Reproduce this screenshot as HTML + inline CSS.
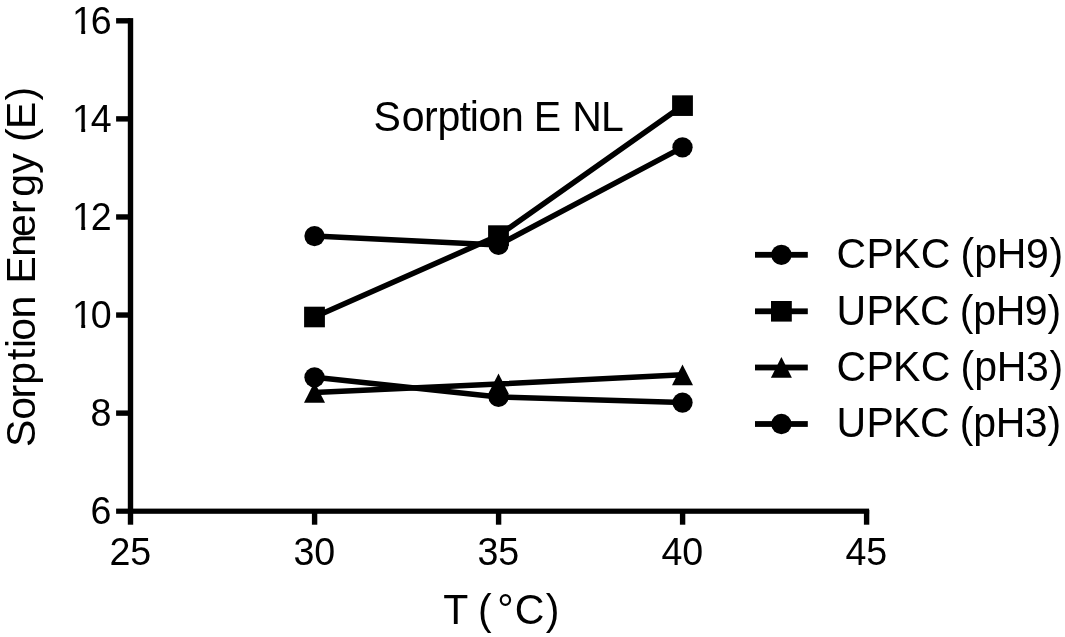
<!DOCTYPE html>
<html lang="en"><head><meta charset="utf-8"><title>Sorption E NL</title>
<style>
html,body{margin:0;padding:0;background:#fff;}
body{width:1065px;height:637px;overflow:hidden;}
svg{display:block;}
text{font-family:"Liberation Sans",Arial,Helvetica,sans-serif;fill:#000;}
.tk{font-size:37.6px;}
.lg{font-size:41px;}
.ti{font-size:41px;}
.ax{font-size:41px;}
</style></head><body>
<svg width="1065" height="637" viewBox="0 0 1065 637">
<rect width="1065" height="637" fill="#fff"/>
<g fill="#000" stroke="none">
<rect x="127.8" y="18.1" width="5.4" height="506.6"/>
<rect x="116.1" y="508.6" width="753.0" height="5.2"/>
<rect x="116.1" y="410.42" width="14" height="5.4"/>
<rect x="116.1" y="312.34" width="14" height="5.4"/>
<rect x="116.1" y="214.26" width="14" height="5.4"/>
<rect x="116.1" y="116.18" width="14" height="5.4"/>
<rect x="116.1" y="18.10" width="14" height="5.4"/>
<rect x="311.90" y="510" width="5.4" height="14.7"/>
<rect x="495.90" y="510" width="5.4" height="14.7"/>
<rect x="679.90" y="510" width="5.4" height="14.7"/>
<rect x="863.90" y="510" width="5.4" height="14.7"/>
</g>
<polyline points="314.50,236.09 498.50,244.91 682.50,147.32" fill="none" stroke="#000" stroke-width="5.5" stroke-linejoin="round"/>
<polyline points="314.50,317.00 498.50,235.60 682.50,105.64" fill="none" stroke="#000" stroke-width="5.5" stroke-linejoin="round"/>
<polyline points="314.50,392.52 498.50,383.99 682.50,374.87" fill="none" stroke="#000" stroke-width="5.5" stroke-linejoin="round"/>
<polyline points="314.50,377.32 498.50,396.94 682.50,402.58" fill="none" stroke="#000" stroke-width="5.5" stroke-linejoin="round"/>
<circle cx="314.50" cy="236.09" r="10.15"/>
<circle cx="498.50" cy="244.91" r="10.15"/>
<circle cx="682.50" cy="147.32" r="10.15"/>
<rect x="304.10" y="306.70" width="20.8" height="20.6"/>
<rect x="488.10" y="225.30" width="20.8" height="20.6"/>
<rect x="672.10" y="95.34" width="20.8" height="20.6"/>
<polygon points="314.50,382.12 325.00,402.82 304.00,402.82"/>
<polygon points="498.50,373.59 509.00,394.29 488.00,394.29"/>
<polygon points="682.50,364.47 693.00,385.17 672.00,385.17"/>
<circle cx="314.50" cy="377.32" r="10.15"/>
<circle cx="498.50" cy="396.94" r="10.15"/>
<circle cx="682.50" cy="402.58" r="10.15"/>
<rect x="755" y="251.90" width="52.8" height="5.8"/>
<circle cx="781.40" cy="254.80" r="10.15"/>
<text class="lg" dx="0 0.3 -0.8 0.3 0 -1.3 0.3 -0.3 -0.4 0.6" transform="translate(836.60,268.00) scale(1,1.04)">CPKC (pH9)</text>
<rect x="755" y="308.40" width="52.8" height="5.8"/>
<rect x="771.00" y="301.00" width="20.8" height="20.6"/>
<text class="lg" dx="0 0.3 -0.8 -0.3 0 -1.3 -0.1 -0.5 -0.4 -0.2" transform="translate(836.60,324.50) scale(1,1.04)">UPKC (pH9)</text>
<rect x="755" y="364.60" width="52.8" height="5.8"/>
<polygon points="781.40,357.10 791.90,377.80 770.90,377.80"/>
<text class="lg" dx="0 0.3 -0.8 0.3 0 -1.3 0.3 -0.3 -0.4 0.6" transform="translate(836.60,380.70) scale(1,1.04)">CPKC (pH3)</text>
<rect x="755" y="421.10" width="52.8" height="5.8"/>
<circle cx="781.40" cy="424.00" r="10.15"/>
<text class="lg" dx="0 0.3 -0.8 -0.3 0 -1.3 -0.1 -0.5 -0.4 -0.2" transform="translate(836.60,437.20) scale(1,1.04)">UPKC (pH3)</text>
<clipPath id="c1"><rect x="-10" y="-40" width="70" height="37"/><rect x="11.46" y="-3.2" width="3.92" height="6"/><rect x="22.31" y="-3.2" width="30" height="15"/></clipPath>
<text class="tk" text-anchor="end" transform="translate(111.30,524.00) scale(1,1.04)">6</text>
<text class="tk" text-anchor="end" transform="translate(111.30,426.00) scale(1,1.04)">8</text>
<text class="tk" dx="2.3 -2.3" clip-path="url(#c1)" transform="translate(69.78,328.00) scale(1,1.04)">10</text>
<text class="tk" dx="2.3 -2.3" clip-path="url(#c1)" transform="translate(69.78,230.00) scale(1,1.04)">12</text>
<text class="tk" dx="2.3 -2.3" clip-path="url(#c1)" transform="translate(69.78,132.00) scale(1,1.04)">14</text>
<text class="tk" dx="2.3 -2.3" clip-path="url(#c1)" transform="translate(69.78,34.00) scale(1,1.04)">16</text>
<text class="tk" text-anchor="middle" transform="translate(130.30,565.00) scale(1,1.04)">25</text>
<text class="tk" text-anchor="middle" transform="translate(314.30,565.00) scale(1,1.04)">30</text>
<text class="tk" text-anchor="middle" transform="translate(498.30,565.00) scale(1,1.04)">35</text>
<text class="tk" text-anchor="middle" transform="translate(682.30,565.00) scale(1,1.04)">40</text>
<text class="tk" text-anchor="middle" transform="translate(866.30,565.00) scale(1,1.04)">45</text>
<text class="ti" dx="0.4 0.95 -0.7 0 -0.85 -1.2 -0.4 -0.35 0 -1.4 0 -0.3 -0.7" transform="translate(373.10,131.00) scale(1,1.02)">Sorption E NL</text>
<text class="ax" dx="0 0 -1 5.6 1.0 1.4" transform="translate(443.30,624.00) scale(1,1.03)">T (°C)</text>
<text class="ax" dx="0 0 -1.6 0 2.1 0.4 -1.7 -0.6 0 0.7 -0.55 -3.05 0.1 3.7 0.1 0 -0.1 -0.7 1.2" transform="translate(35.00,447.00) rotate(-90) scale(1,1.01)">Sorption Energy (E)</text>
</svg>
</body></html>
